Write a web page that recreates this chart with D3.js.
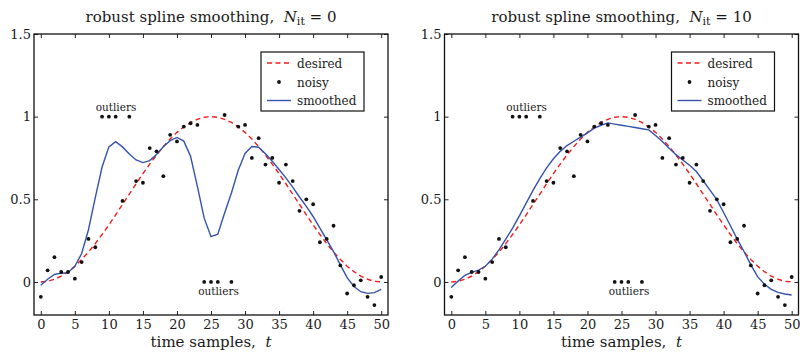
<!DOCTYPE html>
<html>
<head>
<meta charset="utf-8">
<script src="https://cdn.jsdelivr.net/npm/d3@7"></script>
<style>
  body { margin: 0; background: #fff; }
  svg { display: block; }
</style>
</head>
<body>
<svg id="chart" width="800" height="354"></svg>
<script>
// time samples t = 0..50
const samples = [0,1,2,3,4,5,6,7,8,9,10,11,12,13,14,15,16,17,18,19,20,21,22,23,24,25,
  26,27,28,29,30,31,32,33,34,35,36,37,38,39,40,41,42,43,44,45,46,47,48,49,50]

const desired = [0,0.004,0.016,0.035,0.062,0.095,0.136,0.181,0.232,0.287,0.345,0.406,0.469,
  0.531,0.594,0.655,0.713,0.768,0.819,0.865,0.905,0.938,0.965,0.984,0.996,1.0,
  0.996,0.984,0.965,0.938,0.905,0.865,0.819,0.768,0.713,0.655,0.594,0.531,0.469,
  0.406,0.345,0.287,0.232,0.181,0.136,0.095,0.062,0.035,0.016,0.004,0]

const noisy = [-0.09,0.07,0.15,0.06,0.06,0.02,0.12,0.26,0.21,1.0,1.0,1.0,0.49,1.0,
  0.61,0.60,0.81,0.79,0.64,0.89,0.85,0.94,0.96,0.95,0,0,0,1.01,0,
  0.94,0.95,0.75,0.87,0.71,0.75,0.60,0.71,0.61,0.43,
  0.50,0.47,0.24,0.26,0.34,0.10,-0.07,-0.02,0.01,-0.09,-0.14,0.03]

// smoothed, no robust iterations
const smooth0 = [-0.02,0.016,0.045,0.053,0.056,0.095,0.172,0.316,0.51,0.695,
  0.817,0.849,0.817,0.774,0.738,0.722,0.734,0.771,0.818,0.855,
  0.874,0.852,0.76,0.578,0.386,0.274,0.289,0.417,0.538,0.676,
  0.777,0.819,0.815,0.775,0.73,0.68,0.63,0.574,0.514,0.457,
  0.396,0.326,0.255,0.184,0.103,0.026,-0.028,-0.059,-0.069,-0.065,-0.045]

// smoothed, 10 robust iterations
const smooth10 = [-0.034,0.005,0.04,0.058,0.072,0.095,0.138,0.194,0.259,0.326,
  0.40,0.477,0.554,0.625,0.69,0.745,0.79,0.825,0.851,0.876,
  0.902,0.93,0.948,0.962,0.955,0.948,0.941,0.934,0.927,0.92,
  0.886,0.85,0.809,0.77,0.738,0.706,0.668,0.612,0.555,0.498,
  0.42,0.34,0.259,0.184,0.103,0.032,-0.014,-0.045,-0.063,-0.073,-0.079]

const xTicks = [0,5,10,15,20,25,30,35,40,45,50]
const yTicks = [0,0.5,1,1.5]
const legendLabels = ['desired', 'noisy', 'smoothed']

const RED = '#f21d1d'
const BLUE = '#3553ab'
const FONT = '"DejaVu Serif", serif'

const svg = d3.select('#chart')

const label = (sel, size) => sel
  .style('font-family', FONT)
  .style('font-size', size)
  .style('fill', '#1a1a1a')

const drawPanel = (left, right, nit, smoothed) => {
  const top = 34, bottom = 315
  const x = d3.scaleLinear().domain([-1, 51]).range([left, right])
  const y = d3.scaleLinear().domain([-0.2, 1.5]).range([bottom, top])
  const g = svg.append('g')

  // ticks, pointing inside the box
  g.append('g').attr('transform', `translate(0,${bottom})`)
    .call(d3.axisBottom(x).tickValues(xTicks).tickSizeInner(-4).tickSizeOuter(0).tickPadding(5).tickFormat(d3.format('')))
  g.append('g').attr('transform', `translate(0,${top})`)
    .call(d3.axisTop(x).tickValues(xTicks).tickSizeInner(-4).tickSizeOuter(0).tickFormat(''))
  g.append('g').attr('transform', `translate(${left},0)`)
    .call(d3.axisLeft(y).tickValues(yTicks).tickSizeInner(-4).tickSizeOuter(0).tickPadding(3).tickFormat(d3.format('')))
  g.append('g').attr('transform', `translate(${right},0)`)
    .call(d3.axisRight(y).tickValues(yTicks).tickSizeInner(-4).tickSizeOuter(0).tickFormat(''))
  g.selectAll('.domain').remove()
  g.selectAll('.tick line').attr('stroke', '#222')
  label(g.selectAll('.tick text'), '13px')

  const line = (vals) => d3.line()
    .x((d, i) => x(samples[i]))
    .y(d => y(d))(vals)

  g.append('path').attr('d', line(desired))
    .attr('fill', 'none').attr('stroke', RED).attr('stroke-width', 1.4)
    .attr('stroke-dasharray', '5,3.5')

  g.append('path').attr('d', line(smoothed))
    .attr('fill', 'none').attr('stroke', BLUE).attr('stroke-width', 1.4)

  g.selectAll('circle.pt').data(noisy).enter().append('circle')
    .attr('class', 'pt')
    .attr('cx', (d, i) => x(samples[i]))
    .attr('cy', d => y(d))
    .attr('r', 1.9)
    .attr('fill', '#111')

  // outlier notes
  label(g.append('text').attr('x', x(11.05)).attr('y', y(1.06) + 4)
    .attr('text-anchor', 'middle'), '10.5px').text('outliers')
  label(g.append('text').attr('x', x(26.1)).attr('y', y(-0.055) + 4)
    .attr('text-anchor', 'middle'), '10.5px').text('outliers')

  // box
  g.append('rect').attr('x', left).attr('y', top)
    .attr('width', right - left).attr('height', bottom - top)
    .attr('fill', 'none').attr('stroke', '#111').attr('stroke-width', 1.3)

  // title
  const cx = (left + right) / 2
  const t = label(g.append('text').attr('x', cx).attr('y', 22)
    .attr('text-anchor', 'middle'), '15px')
  t.append('tspan').text('robust spline smoothing,\u00a0\u00a0')
  t.append('tspan').style('font-style', 'italic').text('N')
  t.append('tspan').style('font-size', '11px').attr('dy', 3).text('it')
  t.append('tspan').attr('dy', -3).text(' = ' + nit)

  // x label
  const xl = label(g.append('text').attr('x', cx).attr('y', 347)
    .attr('text-anchor', 'middle'), '15px')
  xl.append('tspan').text('time samples,\u00a0\u00a0')
  xl.append('tspan').style('font-style', 'italic').text('t')

  // legend
  const lx = right - 127, ly = 52
  const lg = g.append('g').attr('transform', `translate(${lx},${ly})`)
  lg.append('rect').attr('width', 103).attr('height', 59)
    .attr('fill', '#fff').attr('stroke', '#111').attr('stroke-width', 1.2)
  const rows = [11, 30, 48.5]
  lg.append('line').attr('x1', 6).attr('x2', 30).attr('y1', rows[0]).attr('y2', rows[0])
    .attr('stroke', RED).attr('stroke-width', 1.4).attr('stroke-dasharray', '5,3.5')
  lg.append('circle').attr('cx', 18).attr('cy', rows[1]).attr('r', 1.9).attr('fill', '#111')
  lg.append('line').attr('x1', 6).attr('x2', 30).attr('y1', rows[2]).attr('y2', rows[2])
    .attr('stroke', BLUE).attr('stroke-width', 1.4)
  legendLabels.forEach((lab, i) => {
    label(lg.append('text').attr('x', 36).attr('y', rows[i] + 4.5), '12px').text(lab)
  })
}

drawPanel(34, 388, 0, smooth0)
drawPanel(444.5, 798.5, 10, smooth10)
</script>
</body>
</html>
